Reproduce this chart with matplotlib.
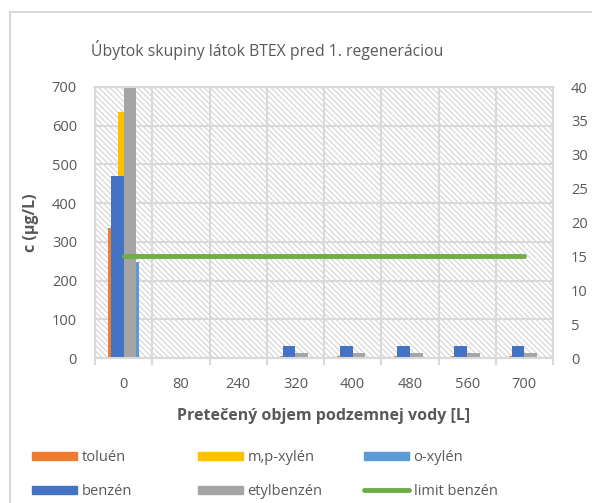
import matplotlib
matplotlib.use("Agg")
import matplotlib.pyplot as plt
import numpy as np
from matplotlib.patches import Rectangle, Patch
from matplotlib.lines import Line2D

plt.rcParams['font.family'] = ['Open Sans', 'DejaVu Sans']
plt.rcParams['hatch.linewidth'] = 0.8
plt.rcParams['hatch.color'] = '#d3d3d3'

categories = ['0', '80', '240', '320', '400', '480', '560', '700']
# primary axis (µg/L, 0-700)
toluen = [336, 0, 0, 6, 6, 6, 6, 6]
mp_xylen = [635, 0, 0, 0, 0, 0, 0, 0]
o_xylen = [248, 0, 0, 0, 0, 0, 0, 0]
# secondary axis (0-40)
benzen = [26.8, 0, 0, 1.8, 1.8, 1.8, 1.8, 1.8]
etylbenzen = [39.8, 0, 0, 0.7, 0.7, 0.7, 0.7, 0.7]
limit_benzen = [15, 15, 15, 15, 15, 15, 15, 15]

C_TOL = '#ED7D31'
C_MP = '#FFC000'
C_O = '#5B9BD5'
C_BEN = '#4472C4'
C_ETY = '#A5A5A5'
C_LIM = '#70AD47'
TXT = '#595959'
GRID = '#d9d9d9'

W, H = 592, 503
fig = plt.figure(figsize=(W / 100, H / 100), dpi=100)
ax = fig.add_axes([95 / W, 1 - 358 / H, 458 / W, 271 / H])
ax2 = ax.twinx()

x = np.arange(len(categories))

# hatched plot background
ax.add_patch(Rectangle((0, 0), 1, 1, transform=ax.transAxes, facecolor='white',
                       edgecolor='#d3d3d3', hatch='\\\\\\\\\\\\', lw=0, zorder=0))

wp = 0.183
ax.bar(x - wp, toluen, wp, color=C_TOL, zorder=2)
ax.bar(x, mp_xylen, wp, color=C_MP, zorder=2)
ax.bar(x + wp, o_xylen, wp, color=C_O, zorder=2)

ws = 0.222
ax2.bar(x - ws / 2, benzen, ws, color=C_BEN, zorder=2)
ax2.bar(x + ws / 2, etylbenzen, ws, color=C_ETY, zorder=2)
ax2.plot(x, limit_benzen, color=C_LIM, lw=3.5, solid_capstyle='round', zorder=3)

ax.set_xlim(-0.5, len(categories) - 0.5)
ax.set_ylim(0, 700)
ax2.set_ylim(0, 40)
ax.set_yticks(np.arange(0, 701, 100))
ax2.set_yticks(np.arange(0, 41, 5))
ax.set_xticks(x)
ax.set_xticklabels(categories)
ax.set_xticks(np.arange(-0.5, len(categories), 1), minor=True)

ax.grid(axis='y', color=GRID, lw=1.5, zorder=1)
ax.grid(axis='x', which='minor', color=GRID, lw=1.5, zorder=1)
ax.set_axisbelow(True)

ax.tick_params(axis='x', which='major', length=0, pad=14, labelsize=10.5, labelcolor=TXT)
ax.tick_params(axis='x', which='minor', length=5, width=1.5, color=GRID)
ax.tick_params(axis='y', length=0, pad=13, labelsize=10.5, labelcolor=TXT)
ax2.tick_params(axis='y', length=0, pad=13, labelsize=10.5, labelcolor=TXT)

for a in (ax, ax2):
    for s in a.spines.values():
        s.set_color(GRID)
        s.set_linewidth(1.5)

ax.set_xlabel('Pretečený objem podzemnej vody [L]', fontsize=11.5, fontweight='bold',
              color=TXT, labelpad=11)
ax.set_ylabel('c (µg/L)', fontsize=11.5, fontweight='bold', color=TXT, labelpad=9)

fig.text(267 / W, 1 - 50 / H, 'Úbytok skupiny látok BTEX pred 1. regeneráciou',
         ha='center', va='center', fontsize=11.3, color=TXT)

# chart border
fig.add_artist(Rectangle((10 / W, -0.1), 1.2, 1.1 - 12 / H, transform=fig.transFigure,
                         facecolor='none', edgecolor=GRID, lw=1.5))

# legend: three columns
cols = [
    ([Patch(color=C_TOL), Patch(color=C_BEN)], ['toluén', 'benzén'], 32),
    ([Patch(color=C_MP), Patch(color=C_ETY)], ['m,p-xylén', 'etylbenzén'], 198),
    ([Patch(color=C_O), Line2D([], [], color=C_LIM, lw=3.5, solid_capstyle='round')],
     ['o-xylén', 'limit benzén'], 364),
]
for handles, labels, px in cols:
    fig.legend(handles, labels, loc='upper left', bbox_to_anchor=(px / W, 1 - 450 / H),
               frameon=False, fontsize=10.5, labelcolor=TXT, handlelength=3.1,
               handleheight=0.45, handletextpad=0.3, labelspacing=1.3,
               borderaxespad=0, borderpad=0)

fig.savefig('out.png', dpi=100)
